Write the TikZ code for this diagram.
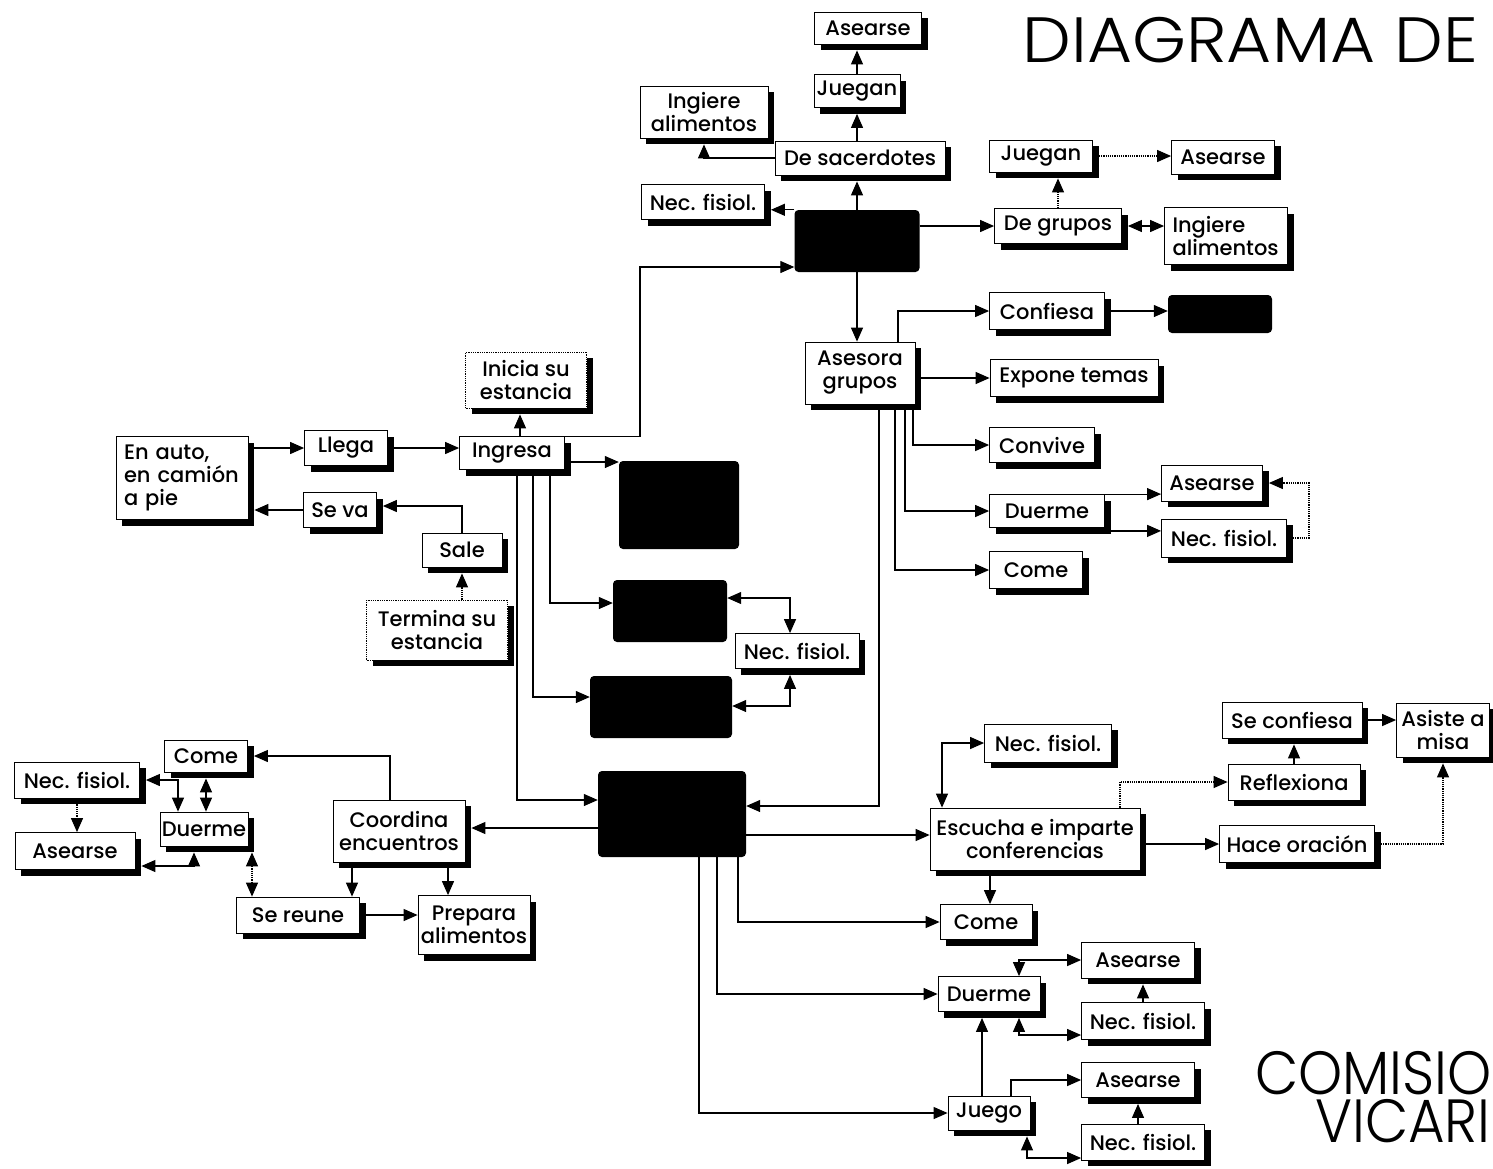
\documentclass[tikz,border=0pt]{standalone}
\usepackage{fontspec}
\setmainfont{Poppins}
\IfFontExistsTF{Poppins Medium}{\newfontfamily\boxfont{Poppins Medium}}{\newfontfamily\boxfont{Poppins}}
\IfFontExistsTF{Poppins Light}{\newfontfamily\titlefont{Poppins Light}}{%
  \IfFontExistsTF{Poppins ExtraLight}{\newfontfamily\titlefont{Poppins ExtraLight}}{\newfontfamily\titlefont{Poppins}}}
\usetikzlibrary{arrows.meta,shadows,calc}
\tikzset{
 bx/.style={draw, line width=0.8pt, fill=white, inner sep=0pt, align=center,
   font=\boxfont\fontsize{21}{23}\selectfont,
   drop shadow={fill=black, opacity=1, shadow xshift=6pt, shadow yshift=-6pt}},
 dbx/.style={bx, densely dotted},
 blk/.style={fill=black, rounded corners=4pt, inner sep=0pt},
 ln/.style={line width=1.2pt},
 arr/.style={ln, -{Triangle[length=14pt,width=12pt]}},
 darr/.style={ln, {Triangle[length=14pt,width=12pt]}-{Triangle[length=14pt,width=12pt]}},
 ttl/.style={inner sep=0pt, font=\titlefont\fontsize{64}{64}\selectfont},
 ttlb/.style={inner sep=0pt, font=\titlefont\fontsize{61}{61}\selectfont},
}
\begin{document}
\begin{tikzpicture}[x=1pt,y=-1pt]
\fill[white] (0,0) rectangle (1493,1168);
\useasboundingbox (0,0) rectangle (1493,1168);
\clip (0,0) rectangle (1493,1168);

% titles
\node[ttl, anchor=east, xscale=1.08, transform shape] (title) at (1478,40) {DIAGRAMA DE};
\node[ttlb, anchor=west, xscale=0.92, transform shape] (com1) at (1255,1073) {COMISIO};
\node[ttlb, anchor=west, xscale=0.92, transform shape] (com2) at (1315,1121) {VICARI};

% top group
\node[bx,minimum width=107pt,minimum height=32pt] (asTop) at (868,28) {Asearse};
\node[bx,minimum width=86pt,minimum height=33pt] (jgTop) at (857,91) {Juegan};
\node[bx,minimum width=128pt,minimum height=52pt] (ingTop) at (704,112) {Ingiere\\alimentos};
\node[bx,minimum width=170pt,minimum height=34pt] (deSac) at (860,158) {De sacerdotes};
\node[bx,minimum width=123pt,minimum height=35pt] (necTop) at (703,202) {Nec. fisiol.};
\node[blk,minimum width=125pt,minimum height=62pt] (blk1) at (857,241) {};
\node[bx,minimum width=103pt,minimum height=32pt] (jgR) at (1041,156) {Juegan};
\node[bx,minimum width=103pt,minimum height=34pt] (asR) at (1223,157) {Asearse};
\node[bx,minimum width=127pt,minimum height=35pt] (deGr) at (1058,226) {De grupos};
\node[bx,minimum width=123pt,minimum height=57pt,align=left,text width=107pt] (ingR) at (1226,236) {Ingiere\\alimentos};
\node[bx,minimum width=115pt,minimum height=37pt] (conf) at (1047,311) {Confiesa};
\node[blk,minimum width=104pt,minimum height=38pt] (blk2) at (1220,314) {};
\node[bx,minimum width=110pt,minimum height=62pt] (ases) at (860,373) {Asesora\\grupos};
\node[bx,minimum width=168pt,minimum height=37pt] (expo) at (1074,378) {Expone temas};
\node[bx,minimum width=105pt,minimum height=35pt] (conv) at (1042,445) {Convive};
\node[bx,minimum width=115pt,minimum height=33pt] (duR) at (1047,511) {Duerme};
\node[bx,minimum width=101pt,minimum height=36pt] (asR2) at (1212,483) {Asearse};
\node[bx,minimum width=125pt,minimum height=38pt] (necR2) at (1224,538) {Nec. fisiol.};
\node[bx,minimum width=93pt,minimum height=37pt] (comeR) at (1036,570) {Come};

% middle left
\node[dbx,minimum width=121pt,minimum height=56pt] (inicia) at (526,380) {Inicia su\\estancia};
\node[bx,minimum width=132pt,minimum height=83pt,align=left,text width=116pt] (auto) at (182,478) {En auto,\\en camión\\a pie};
\node[bx,minimum width=83pt,minimum height=35pt] (llega) at (346,448) {Llega};
\node[bx,minimum width=105pt,minimum height=33pt] (ingresa) at (512,453) {Ingresa};
\node[bx,minimum width=73pt,minimum height=35pt] (seva) at (340,510) {Se va};
\node[bx,minimum width=80pt,minimum height=34pt] (sale) at (462,550) {Sale};
\node[dbx,minimum width=141pt,minimum height=60pt] (termina) at (437,630) {Termina su\\estancia};
\node[blk,minimum width=120pt,minimum height=88pt] (blkA) at (679,505) {};
\node[blk,minimum width=114pt,minimum height=62pt] (blkB) at (670,611) {};
\node[bx,minimum width=124pt,minimum height=35pt] (necC) at (797,651) {Nec. fisiol.};
\node[blk,minimum width=142pt,minimum height=62pt] (blkC) at (661,707) {};
\node[blk,minimum width=148pt,minimum height=86pt] (blkD) at (672,814) {};

% lower left
\node[bx,minimum width=83pt,minimum height=32pt] (comeL) at (206,756) {Come};
\node[bx,minimum width=125pt,minimum height=36pt] (necL) at (77,780) {Nec. fisiol.};
\node[bx,minimum width=88pt,minimum height=34pt] (duL) at (204,829) {Duerme};
\node[bx,minimum width=120pt,minimum height=37pt] (asL) at (75,851) {Asearse};
\node[bx,minimum width=132pt,minimum height=62pt] (coord) at (399,831) {Coordina\\encuentros};
\node[bx,minimum width=123pt,minimum height=36pt] (reune) at (298,915) {Se reune};
\node[bx,minimum width=112pt,minimum height=59pt] (prepara) at (474,925) {Prepara\\alimentos};

% lower right
\node[bx,minimum width=127pt,minimum height=38pt] (necM) at (1048,743) {Nec. fisiol.};
\node[bx,minimum width=140pt,minimum height=36pt] (seconf) at (1292,720) {Se confiesa};
\node[bx,minimum width=93pt,minimum height=54pt] (misa) at (1443,730) {Asiste a\\misa};
\node[bx,minimum width=132pt,minimum height=36pt] (refl) at (1294,782) {Reflexiona};
\node[bx,minimum width=210pt,minimum height=62pt] (escucha) at (1035,839) {Escucha e imparte\\conferencias};
\node[bx,minimum width=155pt,minimum height=37pt] (hace) at (1297,844) {Hace oración};
\node[bx,minimum width=92pt,minimum height=35pt] (comeB) at (986,922) {Come};
\node[bx,minimum width=113pt,minimum height=36pt] (asB1) at (1138,960) {Asearse};
\node[bx,minimum width=102pt,minimum height=35pt] (duB) at (989,994) {Duerme};
\node[bx,minimum width=123pt,minimum height=37pt] (necB1) at (1143,1021) {Nec. fisiol.};
\node[bx,minimum width=113pt,minimum height=35pt] (asB2) at (1138,1080) {Asearse};
\node[bx,minimum width=82pt,minimum height=34pt] (juego) at (989,1113) {Juego};
\node[bx,minimum width=123pt,minimum height=36pt] (necB2) at (1143,1142) {Nec. fisiol.};

% ---- connectors: top
\draw[arr] (blk1.north) -- ($(blk1.north |- deSac.south)+(0,6)$);
\draw[arr] (jgTop.south |- deSac.north) -- ($(jgTop.south)+(0,6)$);
\draw[arr] (jgTop.north) -- ($(jgTop.north |- asTop.south)+(0,6)$);
\draw[arr] (deSac.west) -| ($(ingTop.south)+(0,6)$);
\draw[arr] (blk1.north west) -- ($(blk1.north west -| necTop.east)+(6,0)$);
\draw[arr] (blk1.east |- deGr.west) -- (deGr.west);
\draw[arr, densely dotted] (deGr.north) -- ($(deGr.north |- jgR.south)+(0,6)$);
\draw[arr, densely dotted] ($(jgR.east)+(6,0)$) -- (jgR.east -| asR.west);
\draw[darr] ($(deGr.east)+(6,0)$) -- (deGr.east -| ingR.west);
\draw[arr] (blk1.south) -- (blk1.south |- ases.north);
\draw[arr] (ingresa.north east) -- ++(75,0) |- ($(blk1.west)+(0,26)$);
\draw[arr] ($(ingresa.north)+(8,0)$) -- ($(ingresa.north |- inicia.south)+(8,6)$);
\draw[arr] (auto.east |- llega.west) -- (llega.west);
\draw[arr] ($(llega.east)+(6,0)$) -- (llega.east -| ingresa.west);
\draw[arr] (seva.west) -- ($(seva.west -| auto.east)+(6,0)$);
\draw[arr] (sale.north) |- ($(seva.east)+(6,-4)$);
\draw[arr, densely dotted] (sale.south |- termina.north) -- ($(sale.south)+(0,6)$);
\draw[arr] ($(ingresa.east)+(6,9)$) -- ($(ingresa.east -| blkA.west)+(0,9)$);
\draw[arr] ($(ingresa.south)+(38,0)$) |- ($(blkB.west)+(0,-8)$);
\draw[arr] ($(ingresa.south)+(21,0)$) |- ($(blkC.west)+(0,-10)$);
\draw[arr] ($(ingresa.south)+(5,0)$) |- ($(blkD.west)+(0,-14)$);
\draw[darr] ($(blkB.east)+(0,-13)$) -| ($(necC.north)+(-7,0)$);
\draw[darr] ($(blkC.east)+(0,-1)$) -| ($(necC.south)+(-7,6)$);
\draw[arr] ($(ases.south)+(19,0)$) |- ($(blkD.east)+(0,-8)$);
\draw[arr] ($(ases.north)+(38,0)$) |- (conf.west);
\draw[arr] ($(conf.east)+(6,0)$) -- (conf.east -| blk2.west);
\draw[arr] ($(ases.east |- expo.west)+(6,0)$) -- (expo.west);
\draw[arr] ($(ases.south)+(53,0)$) |- (conv.west);
\draw[arr] ($(ases.south)+(45,0)$) |- (duR.west);
\draw[arr] ($(ases.south)+(35,0)$) |- (comeR.west);
\draw[arr] (duR.north east) -- (duR.north east -| asR2.west);
\draw[arr] ($(duR.south east)+(6,3)$) -- ($(duR.south east -| necR2.west)+(0,3)$);
\draw[arr, densely dotted] ($(necR2.east)+(6,0)$) -- ++(16,0) |- ($(asR2.east)+(6,0)$);

% ---- connectors: lower left
\draw[arr] ($(blkD.west)+(0,14)$) -- ($(blkD.west -| coord.east)+(6,14)$);
\draw[arr] ($(coord.north)+(-9,0)$) |- ($(comeL.east)+(6,0)$);
\draw[arr] ($(reune.north |- coord.south)+(54,6)$) -- ($(reune.north)+(54,0)$);
\draw[arr] ($(prepara.north |- coord.south)+(-26,6)$) -- ($(prepara.north)+(-26,0)$);
\draw[arr] ($(reune.east)+(6,0)$) -- (reune.east -| prepara.west);
\draw[darr] ($(comeL.south)+(0,6)$) -- (comeL.south |- duL.north);
\draw[darr] ($(necL.east)+(6,0)$) -| ($(duL.north)+(-26,0)$);
\draw[arr, densely dotted] ($(necL.south)+(0,6)$) -- (necL.south |- asL.north);
\draw[darr] ($(asL.east)+(6,15)$) -| ($(duL.south)+(-10,6)$);
\draw[darr, densely dotted] ($(duL.south)+(48,6)$) -- ($(reune.north)+(-46,0)$);

% ---- connectors: lower right
\draw[arr] ($(blkD.east)+(0,21)$) -- ($(blkD.east -| escucha.west)+(0,21)$);
\draw[darr] ($(escucha.north)+(-93,0)$) |- (necM.west);
\draw[arr, densely dotted] ($(escucha.north)+(85,0)$) |- (refl.west);
\draw[arr] (refl.north) -- ($(refl.north |- seconf.south)+(0,6)$);
\draw[arr] ($(seconf.east)+(6,0)$) -- (seconf.east -| misa.west);
\draw[arr] ($(escucha.east |- hace.west)+(6,0)$) -- (hace.west);
\draw[arr, densely dotted] ($(hace.east)+(6,0)$) -| ($(misa.south)+(0,6)$);
\draw[arr] ($(comeB.north |- escucha.south)+(4,6)$) -- ($(comeB.north)+(4,0)$);
\draw[arr] ($(blkD.south)+(66,0)$) |- (comeB.west);
\draw[arr] ($(blkD.south)+(45,0)$) |- (duB.west);
\draw[arr] ($(blkD.south)+(27,0)$) |- (juego.west);
\draw[darr] (asB1.west) -| ($(duB.north)+(30,0)$);
\draw[arr] (necB1.north) -- ($(necB1.north |- asB1.south)+(0,6)$);
\draw[darr] ($(necB1.west)+(0,14)$) -| ($(duB.south)+(30,6)$);
\draw[arr] ($(juego.north)+(-7,0)$) -- ($(juego.north |- duB.south)+(-7,6)$);
\draw[arr] ($(juego.north)+(22,0)$) |- (asB2.west);
\draw[arr] ($(necB2.north)+(-5,0)$) -- ($(necB2.north |- asB2.south)+(-5,6)$);
\draw[darr] ($(necB2.west)+(0,16)$) -| ($(juego.south)+(38,6)$);
\end{tikzpicture}
\end{document}
